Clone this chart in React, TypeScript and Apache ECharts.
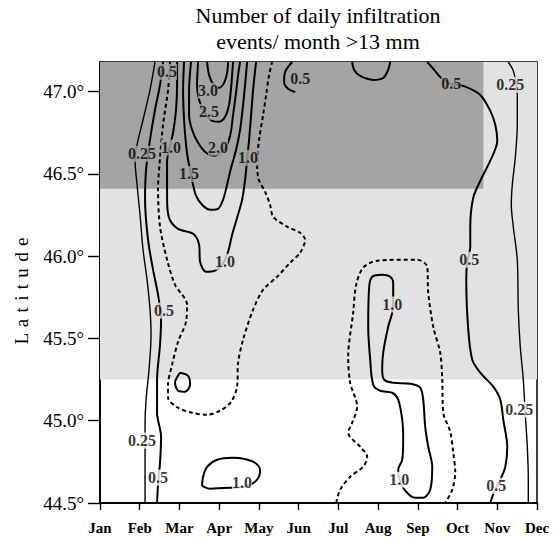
import { useEffect, useRef } from 'react';
import * as echarts from 'echarts';

const MONTHS = ['Jan', 'Feb', 'Mar', 'Apr', 'May', 'Jun', 'Jul', 'Aug', 'Sep', 'Oct', 'Nov', 'Dec'];
const LAT_TICKS = [44.5, 45.0, 45.5, 46.0, 46.5, 47.0];
const LAT_MIN = 44.5;
const LAT_MAX = 47.18;
const TITLE = 'Number of daily infiltration\nevents/ month >13 mm';

// shaded bands [month0, lat0, month1, lat1]
const LIGHT_BAND = [0, 45.25, 11, 47.18];
const DARK_BAND = [0, 46.41, 9.65, 47.18];

// contour lines [month index (Jan=0), latitude]
const c025West = [[1.385,47.18],[1.259,47.011],[1.083,46.829],[0.932,46.677],[0.882,46.586],[0.932,46.434],[1.008,46.252],[1.083,46.039],[1.184,45.857],[1.259,45.675],[1.285,45.523],[1.234,45.310],[1.159,45.128],[1.134,44.976],[1.134,44.763],[1.134,44.5]];
const c05West = [[1.587,47.18],[1.511,47.041],[1.385,46.890],[1.259,46.708],[1.159,46.525],[1.134,46.343],[1.209,46.100],[1.335,45.918],[1.461,45.766],[1.537,45.614],[1.511,45.462],[1.436,45.249],[1.436,45.049],[1.537,44.903],[1.511,44.745],[1.461,44.611],[1.436,44.5]];
const c075West = [[1.763,47.18],[1.713,47.011],[1.587,46.799],[1.511,46.598],[1.461,46.404],[1.511,46.179],[1.688,45.979],[1.889,45.826],[2.191,45.705],[2.166,45.602],[1.965,45.480],[1.814,45.340],[1.713,45.219],[1.713,45.140],[1.965,45.079],[2.317,45.049],[2.695,45.036],[3.023,45.061],[3.300,45.115],[3.451,45.207],[3.476,45.352],[3.602,45.492],[3.854,45.675],[4.106,45.796],[4.458,45.875],[4.786,45.960],[5.038,46.021],[5.164,46.100],[5.038,46.142],[4.710,46.179],[4.358,46.240],[4.282,46.312],[4.156,46.391],[3.980,46.477],[3.955,46.586],[4.005,46.708],[4.106,46.859],[4.181,46.980],[4.257,47.101],[4.332,47.18]];
const c10West = [[1.940,47.18],[1.940,47.041],[1.914,46.890],[1.839,46.750],[1.688,46.573],[1.688,46.355],[1.738,46.233],[1.965,46.166],[2.343,46.136],[2.494,46.070],[2.519,45.966],[2.670,45.905],[2.897,45.912],[3.073,45.948],[3.224,46.027],[3.325,46.130],[3.451,46.233],[3.577,46.343],[3.652,46.464],[3.703,46.586],[3.753,46.708],[3.804,46.859],[3.854,47.011],[3.929,47.18]];
const c15 = [[2.116,47.18],[2.091,47.011],[2.116,46.829],[2.166,46.677],[2.217,46.586],[2.343,46.434],[2.418,46.367],[2.569,46.312],[2.771,46.282],[2.972,46.288],[3.098,46.343],[3.199,46.434],[3.300,46.537],[3.426,46.647],[3.526,46.768],[3.602,46.920],[3.652,47.041],[3.703,47.18]];
const c20 = [[2.292,47.18],[2.242,47.011],[2.242,46.859],[2.317,46.768],[2.469,46.689],[2.670,46.628],[2.872,46.610],[3.123,46.647],[3.275,46.732],[3.350,46.859],[3.426,46.998],[3.476,47.101],[3.526,47.18]];
const c25 = [[2.469,47.18],[2.443,47.041],[2.494,46.950],[2.620,46.877],[2.821,46.823],[2.997,46.817],[3.149,46.847],[3.249,46.920],[3.300,47.023],[3.325,47.101],[3.350,47.18]];
const c30 = [[2.695,47.18],[2.746,47.101],[2.846,47.047],[2.997,47.023],[3.123,47.053],[3.199,47.113],[3.224,47.18]];
const c05MarLoop = [[2.015,45.292],[2.217,45.273],[2.267,45.219],[2.141,45.176],[1.965,45.182],[1.889,45.231],[2.015,45.292]];
const c10AprLoop = [[2.594,44.660],[2.695,44.720],[2.947,44.763],[3.350,44.775],[3.854,44.751],[4.030,44.702],[3.955,44.642],[3.652,44.599],[3.350,44.593],[2.771,44.587],[2.569,44.611],[2.594,44.660]];
const c05JunTop = [[4.836,47.18],[4.660,47.120],[4.635,47.059],[4.736,47.017],[4.912,46.998]];
const c05JulTop = [[6.348,47.18],[6.398,47.132],[6.549,47.095],[6.877,47.071],[7.128,47.083],[7.254,47.132],[7.305,47.18]];
const c05East = [[8.237,47.18],[8.413,47.132],[8.564,47.089],[8.816,47.047],[9.144,47.035],[9.572,46.980],[9.824,46.883],[9.950,46.799],[10.000,46.702],[9.824,46.580],[9.572,46.458],[9.395,46.355],[9.320,46.179],[9.320,46.058],[9.244,45.966],[9.219,45.857],[9.270,45.553],[9.370,45.371],[9.572,45.292],[9.899,45.207],[10.076,45.128],[10.151,45.006],[10.252,44.842],[10.202,44.720],[10.076,44.642],[9.924,44.569],[9.824,44.5]];
const c025East = [[10.277,47.18],[10.403,47.126],[10.479,47.041],[10.504,46.980],[10.504,46.799],[10.453,46.598],[10.378,46.434],[10.353,46.312],[10.403,46.179],[10.504,45.978],[10.529,45.675],[10.579,45.450],[10.655,45.249],[10.705,45.036],[10.756,44.842],[10.781,44.642],[10.781,44.5]];
const c10AugSep = [[7.380,45.754],[7.380,45.838],[7.305,45.875],[7.103,45.887],[6.851,45.875],[6.776,45.814],[6.751,45.571],[6.801,45.371],[6.877,45.219],[7.053,45.182],[7.355,45.170],[7.506,45.128],[7.607,45.006],[7.632,44.885],[7.607,44.763],[7.506,44.702],[7.632,44.593],[7.935,44.532],[8.136,44.532],[8.312,44.581],[8.363,44.720],[8.262,44.842],[8.186,44.963],[8.136,45.128],[8.060,45.201],[7.809,45.225],[7.380,45.231],[7.154,45.249],[7.103,45.310],[7.128,45.413],[7.254,45.571],[7.355,45.657],[7.380,45.754]];
const c075AugSep = [[5.945,44.5],[6.045,44.581],[6.297,44.660],[6.625,44.720],[6.725,44.781],[6.549,44.842],[6.247,44.927],[6.348,44.988],[6.474,45.085],[6.297,45.231],[6.247,45.389],[6.373,45.657],[6.448,45.826],[6.625,45.930],[6.977,45.972],[7.985,45.979],[8.237,45.936],[8.262,45.778],[8.388,45.571],[8.564,45.413],[8.615,45.249],[8.640,45.049],[8.816,44.933],[8.892,44.806],[8.942,44.684],[8.866,44.581],[8.690,44.5]];

const CONTOURS: { level: number; pts: number[][] }[] = [
  { level: 0.25, pts: c025West },
  { level: 0.5, pts: c05West },
  { level: 0.75, pts: c075West },
  { level: 1.0, pts: c10West },
  { level: 1.5, pts: c15 },
  { level: 2.0, pts: c20 },
  { level: 2.5, pts: c25 },
  { level: 3.0, pts: c30 },
  { level: 0.5, pts: c05MarLoop },
  { level: 1.0, pts: c10AprLoop },
  { level: 0.5, pts: c05JunTop },
  { level: 0.5, pts: c05JulTop },
  { level: 0.5, pts: c05East },
  { level: 0.25, pts: c025East },
  { level: 1.0, pts: c10AugSep },
  { level: 0.75, pts: c075AugSep },
];

// contour labels [month, latitude, text]
const LABELS: [number, number, string][] = [
  [1.688, 47.12, '0.5'],
  [1.058, 46.622, '0.25'],
  [1.788, 46.659, '1.0'],
  [2.242, 46.50, '1.5'],
  [2.972, 46.659, '2.0'],
  [2.746, 46.877, '2.5'],
  [2.720, 47.005, '3.0'],
  [3.728, 46.598, '1.0'],
  [3.149, 45.966, '1.0'],
  [1.612, 45.669, '0.5'],
  [1.058, 44.879, '0.25'],
  [1.461, 44.654, '0.5'],
  [3.577, 44.623, '1.0'],
  [5.038, 47.077, '0.5'],
  [8.841, 47.047, '0.5'],
  [10.327, 47.041, '0.25'],
  [9.295, 45.978, '0.5'],
  [10.554, 45.067, '0.25'],
  [9.975, 44.605, '0.5'],
  [7.355, 45.706, '1.0'],
  [7.531, 44.642, '1.0'],
];

const DARK = '#a4a4a4';
const LIGHT = '#e2e2e2';
const SERIF = 'Liberation Serif';

function shadeAt(m: number, lat: number) {
  if (lat >= DARK_BAND[1] && m <= DARK_BAND[2]) return DARK;
  if (lat >= LIGHT_BAND[1]) return LIGHT;
  return '#ffffff';
}

export default function App() {
  const ref = useRef<HTMLDivElement>(null);
  useEffect(() => {
    if (!ref.current) return;
    const chart = echarts.init(ref.current, undefined, { renderer: 'svg' });
    const lineSeries = CONTOURS.map((c) => ({
      type: 'line',
      data: c.pts,
      smooth: 0.3,
      showSymbol: false,
      symbol: 'none',
      silent: true,
      z: 3,
      lineStyle: {
        color: '#000',
        width: c.level === 0.25 ? 1.4 : 2,
        type: c.level === 0.75 ? [4, 3] : 'solid',
      },
    }));
    chart.setOption({
      animation: false,
      grid: { left: 100, right: 21, top: 62, bottom: 37, show: true, borderColor: '#000', borderWidth: 1.5, backgroundColor: 'transparent' },
      xAxis: {
        type: 'value',
        min: 0,
        max: 11,
        interval: 1,
        axisLine: { lineStyle: { color: '#000', width: 1.8 } },
        axisTick: { show: true, length: 7, lineStyle: { color: '#000', width: 1.4 } },
        splitLine: { show: false },
        axisLabel: {
          margin: 17,
          color: '#000',
          fontFamily: SERIF,
          fontSize: 15,
          fontWeight: 'bold',
          formatter: (v: number) => MONTHS[Math.round(v)] ?? '',
        },
      },
      yAxis: {
        type: 'value',
        min: LAT_MIN,
        max: LAT_MAX,
        interval: 0.5,
        axisLine: { lineStyle: { color: '#000', width: 1.8 } },
        axisTick: { show: true, length: 12, customValues: LAT_TICKS, lineStyle: { color: '#000', width: 1.4 } },
        splitLine: { show: false },
        axisLabel: {
          customValues: LAT_TICKS,
          margin: 16,
          color: '#000',
          fontFamily: SERIF,
          fontSize: 19,
          formatter: (v: number) => v.toFixed(1) + '°',
        },
      },
      graphic: [
        {
          type: 'text',
          x: 318,
          y: 2,
          style: { text: TITLE, font: '22px "Liberation Serif"', fill: '#000', align: 'center', verticalAlign: 'top', lineHeight: 26 },
        },
        {
          type: 'text',
          x: 21,
          y: 291,
          rotation: Math.PI / 2,
          style: { text: 'L \u200Aa \u200At \u200Ai \u200At \u200Au \u200Ad \u200Ae', font: '19px "Liberation Serif"', fill: '#000', align: 'center', verticalAlign: 'middle' },
        },
      ],
      series: [
        {
          type: 'line',
          data: [],
          silent: true,
          z: 1,
          markArea: {
            silent: true,
            data: [
              [
                { xAxis: LIGHT_BAND[0], yAxis: LIGHT_BAND[1], itemStyle: { color: LIGHT } },
                { xAxis: LIGHT_BAND[2], yAxis: LIGHT_BAND[3] },
              ],
              [
                { xAxis: DARK_BAND[0], yAxis: DARK_BAND[1], itemStyle: { color: DARK } },
                { xAxis: DARK_BAND[2], yAxis: DARK_BAND[3] },
              ],
            ],
          },
        },
        ...lineSeries,
        {
          type: 'scatter',
          silent: true,
          z: 5,
          symbolSize: 1,
          itemStyle: { color: 'rgba(0,0,0,0)' },
          data: LABELS.map(([m, l, t]) => ({
            value: [m, l],
            label: {
              show: true,
              position: 'inside',
              formatter: t,
              color: '#000',
              fontFamily: SERIF,
              fontSize: 16,
              fontWeight: 'bold',
              backgroundColor: shadeAt(m, l),
              padding: [0, 0],
            },
          })),
        },
      ],
    });
    return () => chart.dispose();
  }, []);
  return <div ref={ref} style={{ position: 'absolute', left: 0, top: 0, width: 558, height: 540 }} />;
}
